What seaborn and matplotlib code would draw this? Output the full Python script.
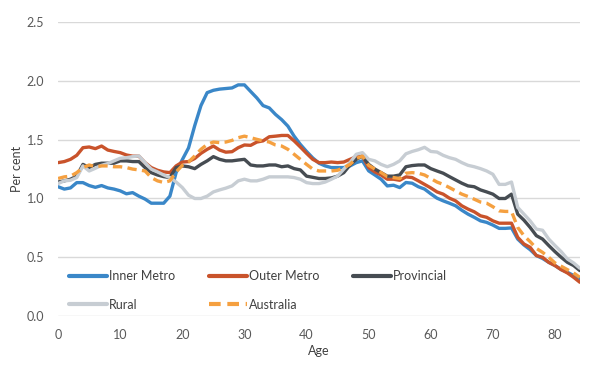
import matplotlib
matplotlib.use('Agg')
import matplotlib.pyplot as plt
import pandas as pd
import seaborn as sns

# Share of population (per cent) by single year of age, ages 0-84
ages = list(range(0, 85))

inner_metro = [1.10, 1.08, 1.09, 1.135, 1.135, 1.11, 1.095, 1.11, 1.09, 1.08,
               1.065, 1.04, 1.05, 1.02, 0.995, 0.96, 0.96, 0.96, 1.02, 1.22,
               1.33, 1.43, 1.62, 1.79, 1.90, 1.92, 1.93, 1.935, 1.94, 1.966,
               1.966, 1.91, 1.855, 1.79, 1.77, 1.715, 1.67, 1.615, 1.53, 1.46,
               1.40, 1.345, 1.30, 1.277, 1.263, 1.263, 1.263, 1.277, 1.305, 1.32,
               1.235, 1.20, 1.164, 1.107, 1.113, 1.093, 1.136, 1.13, 1.10, 1.08,
               1.04, 1.003, 0.98, 0.96, 0.938, 0.90, 0.867, 0.84, 0.81, 0.797,
               0.774, 0.746, 0.746, 0.75, 0.655, 0.605, 0.565, 0.515, 0.49, 0.457,
               0.43, 0.395, 0.373, 0.345, 0.316]

outer_metro = [1.305, 1.314, 1.333, 1.367, 1.432, 1.438, 1.424, 1.446, 1.412, 1.40,
               1.39, 1.37, 1.36, 1.36, 1.305, 1.263, 1.24, 1.226, 1.22, 1.277,
               1.31, 1.314, 1.34, 1.384, 1.418, 1.446, 1.412, 1.394, 1.398, 1.432,
               1.455, 1.452, 1.48, 1.49, 1.525, 1.53, 1.536, 1.536, 1.49, 1.438,
               1.384, 1.333, 1.305, 1.305, 1.31, 1.305, 1.31, 1.333, 1.356, 1.36,
               1.263, 1.226, 1.20, 1.164, 1.164, 1.155, 1.184, 1.178, 1.15, 1.12,
               1.09, 1.056, 1.037, 1.003, 0.98, 0.938, 0.91, 0.887, 0.853, 0.84,
               0.81, 0.79, 0.79, 0.79, 0.67, 0.613, 0.585, 0.515, 0.50, 0.457,
               0.43, 0.395, 0.367, 0.33, 0.288]

provincial = [1.14, 1.15, 1.164, 1.19, 1.29, 1.263, 1.29, 1.30, 1.30, 1.30,
              1.32, 1.32, 1.314, 1.314, 1.263, 1.22, 1.20, 1.186, 1.178, 1.263,
              1.277, 1.27, 1.254, 1.29, 1.32, 1.356, 1.333, 1.32, 1.32, 1.327,
              1.333, 1.285, 1.277, 1.277, 1.285, 1.285, 1.27, 1.277, 1.254, 1.243,
              1.19, 1.18, 1.17, 1.17, 1.175, 1.19, 1.22, 1.285, 1.333, 1.36,
              1.29, 1.25, 1.22, 1.19, 1.19, 1.20, 1.27, 1.28, 1.285, 1.285,
              1.254, 1.234, 1.215, 1.186, 1.158, 1.13, 1.107, 1.10, 1.073, 1.056,
              1.037, 1.00, 1.00, 1.037, 0.867, 0.816, 0.754, 0.684, 0.655, 0.60,
              0.548, 0.50, 0.457, 0.43, 0.387]

rural = [1.127, 1.15, 1.155, 1.178, 1.277, 1.234, 1.257, 1.282, 1.297, 1.32,
         1.342, 1.347, 1.356, 1.362, 1.305, 1.25, 1.226, 1.20, 1.178, 1.14,
         1.093, 1.028, 1.00, 1.00, 1.02, 1.056, 1.073, 1.088, 1.107, 1.15,
         1.164, 1.15, 1.15, 1.164, 1.184, 1.184, 1.184, 1.184, 1.178, 1.164,
         1.135, 1.127, 1.127, 1.14, 1.164, 1.19, 1.25, 1.305, 1.376, 1.39,
         1.333, 1.32, 1.29, 1.27, 1.29, 1.32, 1.38, 1.40, 1.415, 1.435,
         1.40, 1.395, 1.367, 1.347, 1.333, 1.305, 1.282, 1.27, 1.254, 1.234,
         1.206, 1.12, 1.12, 1.14, 0.924, 0.867, 0.81, 0.74, 0.73, 0.655,
         0.60, 0.548, 0.486, 0.452, 0.407]

australia = [1.17, 1.184, 1.19, 1.22, 1.263, 1.285, 1.27, 1.277, 1.277, 1.27,
             1.27, 1.263, 1.25, 1.243, 1.234, 1.178, 1.15, 1.136, 1.15, 1.226,
             1.282, 1.31, 1.362, 1.418, 1.46, 1.48, 1.475, 1.48, 1.494, 1.517,
             1.53, 1.517, 1.503, 1.49, 1.48, 1.455, 1.446, 1.418, 1.376, 1.333,
             1.29, 1.25, 1.234, 1.234, 1.234, 1.24, 1.263, 1.29, 1.34, 1.36,
             1.282, 1.25, 1.22, 1.186, 1.178, 1.17, 1.215, 1.22, 1.215, 1.20,
             1.17, 1.14, 1.12, 1.093, 1.065, 1.037, 1.017, 0.994, 0.97, 0.96,
             0.93, 0.895, 0.89, 0.89, 0.754, 0.684, 0.633, 0.576, 0.542, 0.50,
             0.452, 0.424, 0.395, 0.367, 0.33]

series_names = ['Inner Metro', 'Outer Metro', 'Provincial', 'Rural', 'Australia']
x_ticks = [0, 10, 20, 30, 40, 50, 60, 70, 80]
y_ticks = [0.0, 0.5, 1.0, 1.5, 2.0, 2.5]

df = pd.DataFrame({
    'Age': ages * 5,
    'value': inner_metro + outer_metro + provincial + rural + australia,
    'region': [n for n in series_names for _ in ages],
})

sns.set_style('white')
plt.rcParams['font.family'] = ['Lato', 'DejaVu Sans']

palette = {'Inner Metro': '#3A87C8', 'Outer Metro': '#C9532B',
           'Provincial': '#464C52', 'Rural': '#C7CDD3', 'Australia': '#F5A040'}
dashes = {'Inner Metro': '', 'Outer Metro': '', 'Provincial': '',
          'Rural': '', 'Australia': (2.8, 1.6)}

fig = plt.figure(figsize=(5.99, 3.68), dpi=100)
ax = fig.add_axes([0.097, 0.141, 0.871, 0.799])

sns.lineplot(data=df, x='Age', y='value', hue='region', style='region',
             hue_order=series_names, style_order=series_names,
             palette=palette, dashes=dashes, linewidth=2.4, ax=ax)

ax.set_xlim(0, 84)
ax.set_ylim(0, 2.5)
ax.set_xticks(x_ticks)
ax.set_yticks(y_ticks)
ax.set_yticklabels([f'{v:.1f}' for v in y_ticks])
ax.yaxis.grid(True, color='#D9D9D9', linewidth=1)
ax.set_axisbelow(True)
for s in ax.spines.values():
    s.set_visible(False)
ax.tick_params(axis='both', length=0, labelsize=9, colors='#595959')
ax.tick_params(axis='y', pad=10)
ax.tick_params(axis='x', pad=9)
ax.set_xlabel('Age', fontsize=9, color='#404040', labelpad=3)
ax.set_ylabel('Per cent', fontsize=9, color='#404040', labelpad=3)

# Excel fills the legend row by row; matplotlib fills column by column
handles, labels = ax.get_legend_handles_labels()
order = [0, 3, 1, 4, 2]
leg = ax.legend([handles[i] for i in order], [labels[i] for i in order],
                loc='lower left', bbox_to_anchor=(0.0, -0.02), ncol=3,
                frameon=False, fontsize=9, handlelength=3.0,
                handletextpad=0.15, columnspacing=2.75, labelspacing=1.33)
for t in leg.get_texts():
    t.set_color('#404040')
for line in leg.get_lines():
    line.set_linewidth(3)

fig.savefig('out.png', dpi=100)
